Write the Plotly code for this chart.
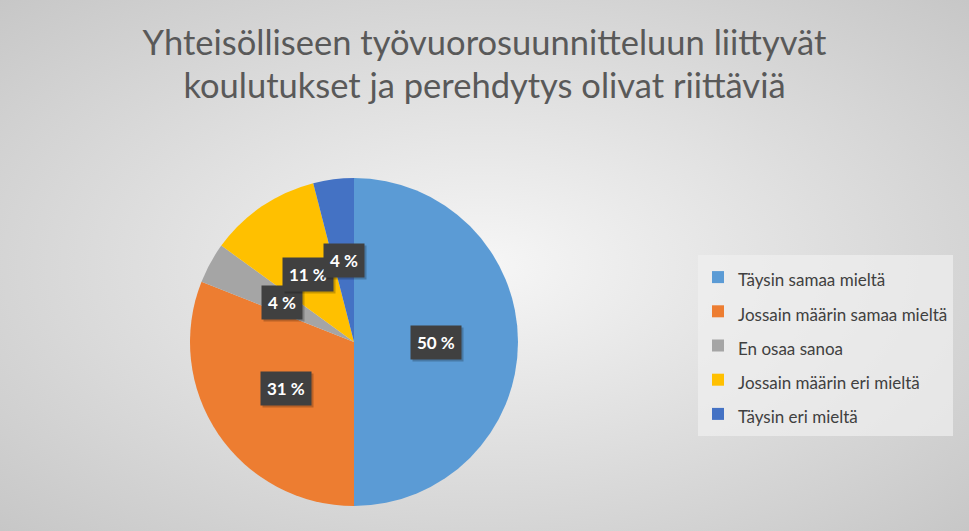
import base64
import math
import plotly.graph_objects as go

# ─── data ─────────────────────────────────────────────────────────────────────
title_lines = [
    "Yhteisölliseen työvuorosuunnitteluun liittyvät",
    "koulutukset ja perehdytys olivat riittäviä",
]
labels = [
    "Täysin samaa mieltä",
    "Jossain määrin samaa mieltä",
    "En osaa sanoa",
    "Jossain määrin eri mieltä",
    "Täysin eri mieltä",
]
shares = [50, 31, 4, 11, 4]   # percent
colors = ["#5B9BD5", "#ED7D31", "#A5A5A5", "#FFC000", "#4472C4"]

# ─── layout constants (pixels) ───────────────────────────────────────────────
W, H = 969, 531
CX, CY, R = 354, 342, 164       # pie centre / radius
FONT = "Lato, 'Open Sans', sans-serif"

# radial grey background as an inline svg
svg = (
    f"<svg xmlns='http://www.w3.org/2000/svg' width='{W}' height='{H}' preserveAspectRatio='none'>"
    "<defs><radialGradient id='g' cx='50%' cy='50%' r='72%'>"
    "<stop offset='0' stop-color='#f6f6f6'/><stop offset='1' stop-color='#c6c6c6'/>"
    "</radialGradient></defs><rect width='100%' height='100%' fill='url(#g)'/></svg>"
)
bg_src = "data:image/svg+xml;base64," + base64.b64encode(svg.encode()).decode()

fig = go.Figure(go.Pie(
    labels=[f"<span style='font-size:17px'>{l}</span>" for l in labels],
    values=shares,
    marker=dict(colors=colors, line=dict(width=0)),
    sort=False,
    direction="clockwise",
    rotation=0,
    textinfo="none",
    hoverinfo="label+percent",
    domain=dict(
        x=[(CX - R) / W, (CX + R) / W],
        y=[1 - (CY + R) / H, 1 - (CY - R) / H],
    ),
))

# data labels: dark boxes at half radius of each slice
total = sum(shares)
cum = 0
for v in shares:
    mid = (cum + v / 2) / total * 2 * math.pi
    cum += v
    px_ = CX + 0.5 * R * math.sin(mid)
    py_ = CY - 0.5 * R * math.cos(mid)
    txt = f"<b>{v} %</b>"
    common = dict(xref="paper", yref="paper", x=px_ / W, y=1 - py_ / H,
                  xanchor="center", yanchor="middle",
                  showarrow=False, borderpad=6)
    # soft shadow
    fig.add_annotation(text=txt, bgcolor="rgba(0,0,0,0.22)", xshift=2, yshift=-2,
                       font=dict(family=FONT, size=17, color="rgba(0,0,0,0)"), **common)
    fig.add_annotation(text=txt, bgcolor="#404040",
                       font=dict(family=FONT, size=17, color="white"), **common)

fig.update_layout(
    width=W, height=H,
    margin=dict(l=0, r=0, t=0, b=0),
    paper_bgcolor="#dcdcdc",
    images=[dict(source=bg_src, xref="paper", yref="paper", x=0, y=1,
                 sizex=1, sizey=1, sizing="stretch", layer="below")],
    title=dict(
        text="<br>".join(f"<span style='font-size:34.5px'>{t}</span>" for t in title_lines),
        font=dict(family=FONT, size=33, color="#595959"),
        x=0.5, xanchor="center",
        yref="container", y=1 - 55 / H, yanchor="top",
    ),
    legend=dict(
        x=698 / W, xanchor="left", y=1 - 255 / H, yanchor="top",
        bgcolor="rgba(240,240,240,0.7)",
        font=dict(family=FONT, size=24, color="#404040"),
    ),
    showlegend=True,
)

fig.write_html("out.html", config={"displayModeBar": False},
               post_script="document.body.style.margin='0';")
